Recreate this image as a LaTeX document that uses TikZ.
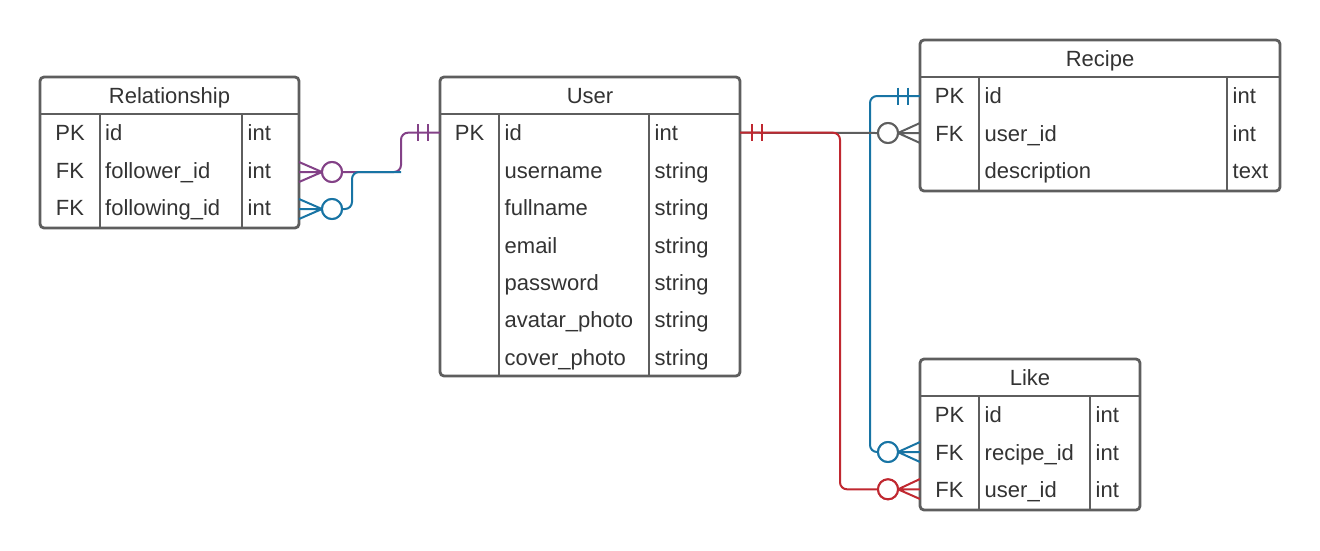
\documentclass[tikz,border=0pt]{standalone}
\usepackage{fontspec}
\setmainfont{Liberation Sans}
\definecolor{bordc}{RGB}{94,94,94}
\definecolor{txtc}{RGB}{51,51,51}
\definecolor{relp}{RGB}{131,65,135}
\definecolor{relb}{RGB}{24,116,164}
\definecolor{relr}{RGB}{192,40,48}
\definecolor{relg}{RGB}{94,94,94}
\begin{document}
\begin{tikzpicture}[x=1pt,y=-1pt,
  tbl/.style={draw=bordc, line width=2.8pt, rounded corners=4pt, fill=white, inner sep=0pt, outer sep=0pt},
  sep/.style={draw=bordc, line width=2.4pt},
  txt/.style={text=txtc, font=\fontsize{22}{26}\selectfont, inner sep=0pt, text height=16pt, text depth=3pt, yshift=-1.5pt},
  ttl/.style={txt, anchor=center},
  key/.style={txt, anchor=center},
  fld/.style={txt, anchor=west},
  con/.style={line width=2pt, rounded corners=7pt},
  crow/.style={line width=2pt},
  bar/.style={line width=2pt},
  circ/.style={circle, draw, line width=2pt, fill=white, minimum size=20pt, inner sep=0pt, outer sep=0pt}]
\useasboundingbox (0,0) rectangle (1320,550);

% ---------- Relationship ----------
\node[tbl, minimum width=259pt, minimum height=151pt] (rel) at (169.5,152.5) {};
\node[ttl] (relT) at (169.5,95.5) {Relationship};
\draw[sep] (40,114) -- (299,114);
\draw[sep] (100,114) -- (100,228);
\draw[sep] (242,114) -- (242,228);
\foreach \k/\f/\t [count=\i] in {PK/id/int, FK/follower\_id/int, FK/following\_id/int}{
  \node[key] (relk\i) at (70,{114+37.33*(\i-0.5)}) {\k};
  \node[fld] (relf\i) at (105,{114+37.33*(\i-0.5)}) {\f};
  \node[fld] (relt\i) at (247.5,{114+37.33*(\i-0.5)}) {\t};
}

% ---------- User ----------
\node[tbl, minimum width=300pt, minimum height=299pt] (user) at (590,226.5) {};
\node[ttl] (userT) at (590,95.5) {User};
\draw[sep] (440,114) -- (740,114);
\draw[sep] (499,114) -- (499,376);
\draw[sep] (649,114) -- (649,376);
\foreach \k/\f/\t [count=\i] in {PK/id/int, /username/string, /fullname/string, /email/string, /password/string, /avatar\_photo/string, /cover\_photo/string}{
  \node[key] (userk\i) at (469.5,{114+37.43*(\i-0.5)}) {\k};
  \node[fld] (userf\i) at (504.5,{114+37.43*(\i-0.5)}) {\f};
  \node[fld] (usert\i) at (654.5,{114+37.43*(\i-0.5)}) {\t};
}

% ---------- Recipe ----------
\node[tbl, minimum width=360pt, minimum height=151pt] (recipe) at (1100,115.5) {};
\node[ttl] (recipeT) at (1100,58.5) {Recipe};
\draw[sep] (920,77) -- (1280,77);
\draw[sep] (979,77) -- (979,191);
\draw[sep] (1227,77) -- (1227,191);
\foreach \k/\f/\t [count=\i] in {PK/id/int, FK/user\_id/int, /description/text}{
  \node[key] (reck\i) at (949.5,{77+37.33*(\i-0.5)}) {\k};
  \node[fld] (recf\i) at (984.5,{77+37.33*(\i-0.5)}) {\f};
  \node[fld] (rect\i) at (1232.5,{77+37.33*(\i-0.5)}) {\t};
}

% ---------- Like ----------
\node[tbl, minimum width=220pt, minimum height=151pt] (like) at (1030,434.5) {};
\node[ttl] (likeT) at (1030,377.5) {Like};
\draw[sep] (920,396) -- (1140,396);
\draw[sep] (979,396) -- (979,510);
\draw[sep] (1090,396) -- (1090,510);
\foreach \k/\f/\t [count=\i] in {PK/id/int, FK/recipe\_id/int, FK/user\_id/int}{
  \node[key] (likek\i) at (949.5,{396+37.33*(\i-0.5)}) {\k};
  \node[fld] (likef\i) at (984.5,{396+37.33*(\i-0.5)}) {\f};
  \node[fld] (liket\i) at (1095.5,{396+37.33*(\i-0.5)}) {\t};
}

% ---------- connector end points ----------
\coordinate (uPKw) at (user.west |- userk1);
\coordinate (uPKe) at (user.east |- userk1);
\coordinate (rFol) at (299,172);
\coordinate (rFing) at (299,209);
\coordinate (rcPK) at (920,96);
\coordinate (rcFK) at (920,133);
\coordinate (lkRec) at (920,452);
\coordinate (lkUsr) at (920,489.3);
\coordinate (joinL) at (401,172);

% ---------- Relationship.follower_id -> User.id (purple) ----------
\node[circ, draw=relp] (cFol) at (332,172) {};
\draw[con, relp] (440,132.7) -- (401,132.7) -- (joinL) -- (cFol.east);
\draw[crow, relp] (cFol.west) -- (299,162) (cFol.west) -- (rFol) (cFol.west) -- (299,182);
\draw[bar, relp] (418,124) -- (418,141) (428,124) -- (428,141);

% ---------- Relationship.following_id -> User.id (blue) ----------
\node[circ, draw=relb] (cFing) at (332,209) {};
\draw[con, relb] (cFing.east) -- (352,209) -- (352,172) -- (joinL);
\draw[crow, relb] (cFing.west) -- (299,199) (cFing.west) -- (rFing) (cFing.west) -- (299,219);

% ---------- Like.recipe_id -> Recipe.id (blue) ----------
\node[circ, draw=relb] (cLR) at (888,452) {};
\draw[con, relb] (rcPK) -- (870,96) -- (870,452) -- (cLR.west);
\draw[crow, relb] (cLR.east) -- (920,442) (cLR.east) -- (lkRec) (cLR.east) -- (920,462);
\draw[bar, relb] (898,87.5) -- (898,104.5) (908,87.5) -- (908,104.5);

% ---------- Recipe.user_id -> User.id (gray) ----------
\node[circ, draw=relg] (cRU) at (888,133) {};
\draw[con, relg] (740,132.7) -- (cRU.west);
\draw[crow, relg] (cRU.east) -- (920,123) (cRU.east) -- (rcFK) (cRU.east) -- (920,143);

% ---------- Like.user_id -> User.id (red) ----------
\node[circ, draw=relr] (cLU) at (888,489.3) {};
\draw[con, relr] (740,132.7) -- (840,132.7) -- (840,489.3) -- (cLU.west);
\draw[crow, relr] (cLU.east) -- (920,479) (cLU.east) -- (lkUsr) (cLU.east) -- (920,499);
\draw[bar, relr] (752,124) -- (752,141) (762,124) -- (762,141);

% redraw circles on top
\node[circ, draw=relp] at (cFol) {};
\node[circ, draw=relb] at (cFing) {};
\node[circ, draw=relb] at (cLR) {};
\node[circ, draw=relg] at (cRU) {};
\node[circ, draw=relr] at (cLU) {};
\end{tikzpicture}
\end{document}
